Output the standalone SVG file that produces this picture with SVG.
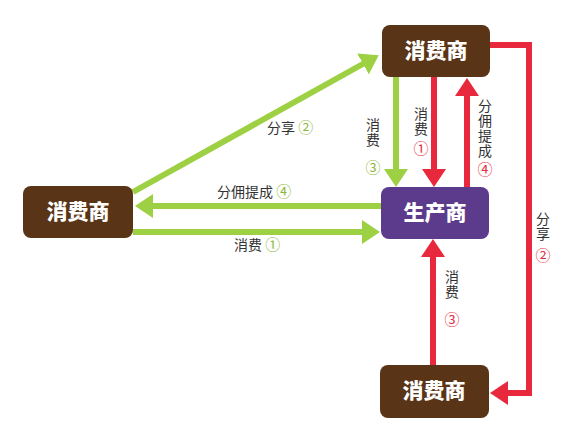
<svg xmlns="http://www.w3.org/2000/svg" width="563" height="427" viewBox="0 0 563 427">
<defs>
<marker id="hg" viewBox="0 0 18 24" refX="8" refY="12" markerWidth="18" markerHeight="24" markerUnits="userSpaceOnUse" orient="auto"><path d="M0,0 L18,12 L0,24 z" fill="#9dd043"/></marker>
<marker id="hr" viewBox="0 0 18 24" refX="8" refY="12" markerWidth="18" markerHeight="24" markerUnits="userSpaceOnUse" orient="auto"><path d="M0,0 L18,12 L0,24 z" fill="#e8283c"/></marker>
</defs>
<style>
.g{fill:none;stroke:#9dd043;stroke-width:6;marker-end:url(#hg)}
.r{fill:none;stroke:#e8283c;stroke-width:6;marker-end:url(#hr)}
.box{fill:#5a3417}
.bt{font-family:"Noto Sans CJK SC",sans-serif;font-weight:900;font-size:21px;fill:#fff;text-anchor:middle}
.lb{font-family:"Noto Sans CJK SC",sans-serif;font-size:14px;fill:#333}
.v{writing-mode:vertical-rl;letter-spacing:1px}
.cg{fill:#8ab83a;font-size:15px}
.cr{fill:#e8283c;font-size:15px}
</style>
<rect width="563" height="427" fill="#fff"/>
<g id="connectors">
<line class="g" x1="381" y1="206" x2="145" y2="206"/>
<line class="g" x1="133" y1="232" x2="370" y2="232"/>
<line class="g" x1="133" y1="192" x2="370" y2="60"/>
<line class="g" x1="396" y1="77" x2="396" y2="177"/>
<line class="r" x1="434" y1="77" x2="434" y2="177"/>
<line class="r" x1="467" y1="187" x2="467" y2="88"/>
<polyline class="r" points="490,45 529,45 529,393 500,393"/>
<line class="r" x1="433" y1="365" x2="433" y2="249"/>
</g>
<g id="labels">
<text class="lb" x="217" y="197">分佣提成 <tspan class="cg">④</tspan></text>
<text class="lb" x="234" y="250">消费 <tspan class="cg">①</tspan></text>
<text class="lb" x="267" y="133">分享 <tspan class="cg">②</tspan></text>
<text class="lb v" x="373" y="118">消费<tspan class="cg" dy="12">③</tspan></text>
<text class="lb v" x="421" y="107">消费<tspan class="cr" dy="4">①</tspan></text>
<text class="lb v" x="485" y="99">分佣提成<tspan class="cr" dy="3">④</tspan></text>
<text class="lb v" x="543" y="212">分享<tspan class="cr" dy="6">②</tspan></text>
<text class="lb v" x="452" y="270">消费<tspan class="cr" dy="12">③</tspan></text>
</g>
<g id="consumer-top"><rect class="box" x="382" y="25" width="108" height="52" rx="8"/><text class="bt" x="436" y="58">消费商</text></g>
<g id="producer"><rect x="381" y="187" width="108" height="52" rx="8" fill="#5d3b8c"/><text class="bt" x="435" y="220">生产商</text></g>
<g id="consumer-left"><rect class="box" x="23" y="186" width="110" height="52" rx="8"/><text class="bt" x="78" y="219">消费商</text></g>
<g id="consumer-bottom"><rect class="box" x="380" y="365" width="109" height="53" rx="8"/><text class="bt" x="434" y="398">消费商</text></g>
</svg>
